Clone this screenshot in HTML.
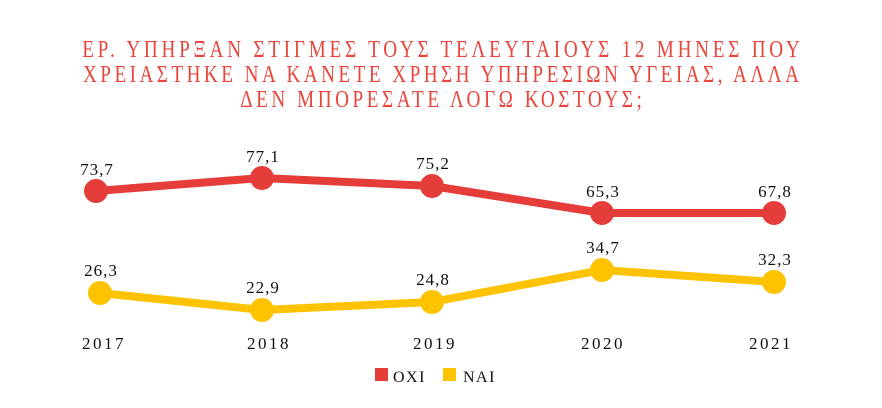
<!DOCTYPE html><html><head><meta charset="utf-8"><style>body{margin:0;background:#fff}svg{display:block}</style></head><body>
<svg width="882" height="408" xmlns="http://www.w3.org/2000/svg" font-family="Liberation Serif, serif">
<g fill="#e8463c" font-size="24" text-anchor="middle" transform="scale(0.8,1)">
<text x="551.25" y="57" textLength="897" lengthAdjust="spacing">ΕΡ. ΥΠΗΡΞΑΝ ΣΤΙΓΜΕΣ ΤΟΥΣ ΤΕΛΕΥΤΑΙΟΥΣ 12 ΜΗΝΕΣ ΠΟΥ</text>
<text x="551.25" y="82" textLength="895" lengthAdjust="spacing">ΧΡΕΙΑΣΤΗΚΕ ΝΑ ΚΑΝΕΤΕ ΧΡΗΣΗ ΥΠΗΡΕΣΙΩΝ ΥΓΕΙΑΣ, ΑΛΛΑ</text>
<text x="551.25" y="107" textLength="502" lengthAdjust="spacing">ΔΕΝ ΜΠΟΡΕΣΑΤΕ ΛΟΓΩ ΚΟΣΤΟΥΣ;</text>
</g>
<polyline points="96,191 262,178 432,186 602,213 774,213" fill="none" stroke="#e53d39" stroke-width="8" stroke-linejoin="round"/>
<g fill="#e53d39"><circle cx="96" cy="191" r="12"/><circle cx="262" cy="178" r="12"/><circle cx="432" cy="186" r="12"/><circle cx="602" cy="213" r="12"/><circle cx="774" cy="213" r="12"/></g>
<polyline points="100,293 262,310 432,302 602,270 774,282" fill="none" stroke="#fdc300" stroke-width="8" stroke-linejoin="round"/>
<g fill="#fdc300"><circle cx="100" cy="293" r="12"/><circle cx="262" cy="310" r="12"/><circle cx="432" cy="302" r="12"/><circle cx="602" cy="270" r="12"/><circle cx="774" cy="282" r="12"/></g>
<g font-size="17" fill="#111" text-anchor="middle" letter-spacing="1">
<text x="97" y="175">73,7</text><text x="263" y="162">77,1</text><text x="433" y="169">75,2</text><text x="603" y="197">65,3</text><text x="775" y="197">67,8</text>
<text x="101" y="276">26,3</text><text x="263" y="293">22,9</text><text x="433" y="285">24,8</text><text x="603" y="253">34,7</text><text x="775" y="265">32,3</text>
<text x="104" y="349" letter-spacing="2.5">2017</text><text x="269" y="349" letter-spacing="2.5">2018</text><text x="435" y="349" letter-spacing="2.5">2019</text><text x="603" y="349" letter-spacing="2.5">2020</text><text x="771" y="349" letter-spacing="2.5">2021</text>
</g>
<rect x="375" y="368" width="13" height="13" fill="#e53d39"/>
<rect x="443" y="368" width="13" height="13" fill="#fdc300"/>
<g font-size="16" fill="#111" letter-spacing="1.5"><text x="393" y="382">OXI</text><text x="463" y="382">NAI</text></g>
</svg></body></html>
